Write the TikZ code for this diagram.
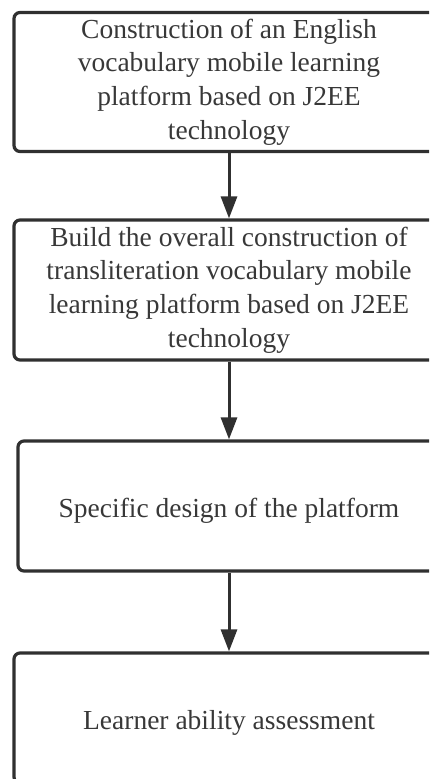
\documentclass[tikz,border=0pt]{standalone}
\usepackage{fontspec}
\setmainfont{Liberation Serif}
\usetikzlibrary{arrows.meta}
\definecolor{edgegray}{HTML}{303030}
\definecolor{inkgray}{HTML}{383838}
\begin{document}
\begin{tikzpicture}[x=1pt, y=-1pt, every node/.style={font=\fontsize{27.5}{33.7}\selectfont, text=inkgray},
  stagebox/.style={draw=edgegray, line width=3.2pt, rounded corners=6pt, align=center, minimum width=430pt, inner sep=0pt,
    execute at begin node={\rule{0pt}{29pt}}},
  flow/.style={-{Triangle[length=22pt,width=16pt]}, line width=3pt, draw=edgegray}]
\useasboundingbox (0,0) rectangle (429,779);
\clip (0,0) rectangle (429,779);
\node[stagebox,minimum height=139pt] (a) at (229,82) {Construction of an English\\vocabulary mobile learning\\platform based on J2EE\\technology};
\node[stagebox,minimum height=140pt] (b) at (229,290) {Build the overall construction of\\transliteration vocabulary mobile\\learning platform based on J2EE\\technology};
\node[stagebox,minimum height=130pt,minimum width=422pt] (c) at (229,506) {Specific design of the platform};
\node[stagebox,minimum height=130pt] (d) at (229,718) {Learner ability assessment};
\draw[flow] (a) -- (b);
\draw[flow] (b) -- (c);
\draw[flow] (c) -- (d);
\end{tikzpicture}
\end{document}
